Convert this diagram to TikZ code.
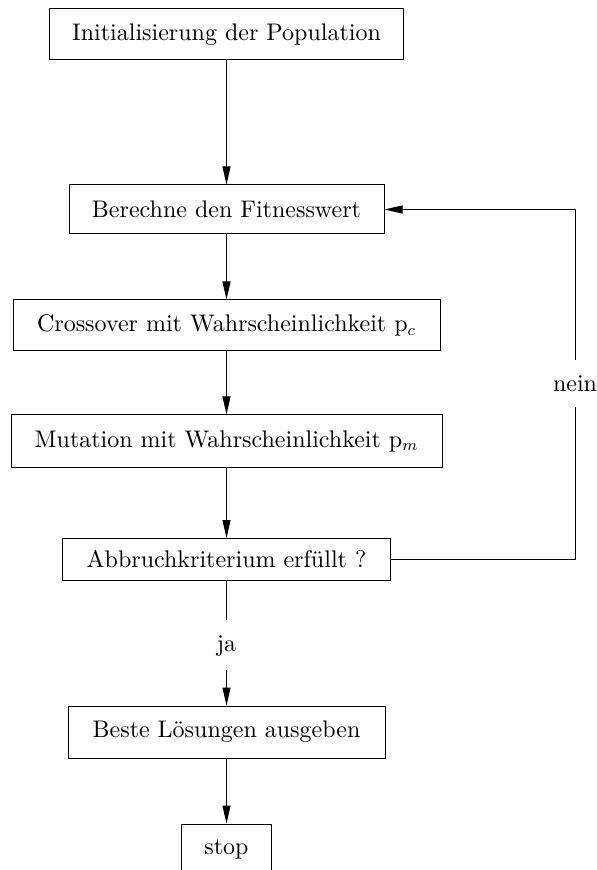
\documentclass[tikz,border=0pt]{standalone}
\usepackage{fontspec}
\setmainfont{lmroman10-regular.otf}[ItalicFont=lmroman10-italic.otf,BoldFont=lmroman10-bold.otf]
\usetikzlibrary{arrows.meta}
\begin{document}
\begin{tikzpicture}[x=0.5pt,y=-0.5pt,
  every node/.style={font=\fontsize{12}{14.4}\selectfont},
  box/.style={draw,line width=0.5pt,inner sep=0pt,anchor=center},
  lbl/.style={inner sep=0pt,anchor=center},
  conn/.style={line width=0.5pt},
  arr/.style={line width=0.5pt,-{Triangle[length=9pt,width=4pt]}}]
\clip (0,0) rectangle (597,870);
\useasboundingbox (0,0) rectangle (597,870);
\node[box,minimum width=177pt,minimum height=25.5pt] (b1) at (226.5,34.5) {Initialisierung der Population};
\node[box,minimum width=157.5pt,minimum height=24.5pt] (b2) at (226.5,209.5) {Berechne den Fitnesswert};
\node[box,minimum width=213.5pt,minimum height=25.5pt] (b3) at (226.5,325.5) {Crossover mit Wahrscheinlichkeit p$_c$};
\node[box,minimum width=215.5pt,minimum height=26pt] (b4) at (226.5,441) {Mutation mit Wahrscheinlichkeit p$_m$};
\node[box,minimum width=164pt,minimum height=21pt] (b5) at (226.5,559.5) {Abbruchkriterium erfüllt ?};
\node[box,minimum width=158.5pt,minimum height=26pt] (b6) at (226.5,732) {Beste Lösungen ausgeben};
\node[box,minimum width=45pt,minimum height=25pt] (b7) at (226.5,849) {stop};
\node[lbl] (ja) at (226.5,646) {ja};
\node[lbl] (nein) at (575,384) {nein};
\coordinate (jt) at (226.5,620);
\coordinate (jb) at (226.5,670);
\coordinate (nt) at (575,360);
\coordinate (nb) at (575,407);
\coordinate (c1) at (575,209.5);
\coordinate (c2) at (575,559.5);
\draw[arr] (b1) -- (b2);
\draw[arr] (b2) -- (b3);
\draw[arr] (b3) -- (b4);
\draw[arr] (b4) -- (b5);
\draw[conn] (b5.south) -- (jt);
\draw[arr] (jb) -- (b6.north);
\draw[arr] (b6) -- (b7);
\draw[conn] (b5.east) -- (c2) -- (nb);
\draw[arr] (nt) -- (c1) -- (b2.east);
\end{tikzpicture}
\end{document}
